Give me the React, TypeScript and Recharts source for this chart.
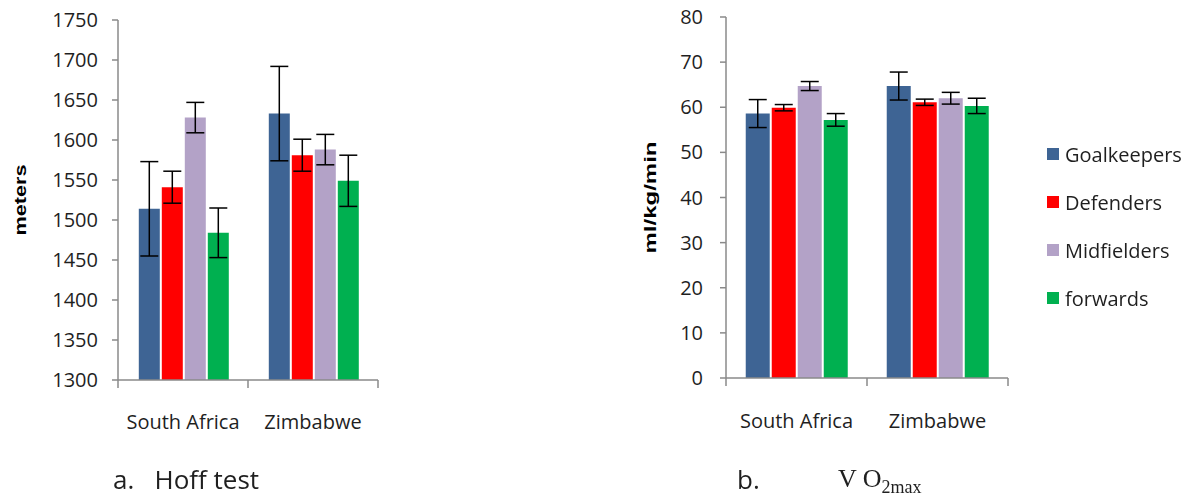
import { BarChart, Bar, XAxis, YAxis, ErrorBar, Legend } from 'recharts';

const groups = ['South Africa', 'Zimbabwe'];
const positions = ['Goalkeepers', 'Defenders', 'Midfielders', 'forwards'];
const colors = ['#3E6494', '#FF0000', '#B3A2C7', '#00B050'];

// a. Hoff test (meters)
const hoffGoalkeepers = [1514, 1633];
const hoffDefenders = [1541, 1581];
const hoffMidfielders = [1628, 1588];
const hoffForwards = [1484, 1549];
const hoffGoalkeepersErr = [59, 59];
const hoffDefendersErr = [20, 20];
const hoffMidfieldersErr = [19, 19];
const hoffForwardsErr = [31, 32];
const hoffTicks = [1300, 1350, 1400, 1450, 1500, 1550, 1600, 1650, 1700, 1750];

// b. VO2max (ml/kg/min)
const vo2Goalkeepers = [58.6, 64.7];
const vo2Defenders = [59.9, 61.1];
const vo2Midfielders = [64.7, 62.0];
const vo2Forwards = [57.2, 60.3];
const vo2GoalkeepersErr = [3.1, 3.1];
const vo2DefendersErr = [0.7, 0.7];
const vo2MidfieldersErr = [1.0, 1.3];
const vo2ForwardsErr = [1.4, 1.7];
const vo2Ticks = [0, 10, 20, 30, 40, 50, 60, 70, 80];

const keys = ['gk', 'def', 'mid', 'fwd'];

const buildRows = (means: number[][], errs: number[][]) =>
  groups.map((name, i) => {
    const row: Record<string, any> = { name };
    keys.forEach((k, j) => {
      row[k] = means[j][i];
      row[k + 'Err'] = errs[j][i];
    });
    return row;
  });

const hoffData = buildRows(
  [hoffGoalkeepers, hoffDefenders, hoffMidfielders, hoffForwards],
  [hoffGoalkeepersErr, hoffDefendersErr, hoffMidfieldersErr, hoffForwardsErr]
);
const vo2Data = buildRows(
  [vo2Goalkeepers, vo2Defenders, vo2Midfielders, vo2Forwards],
  [vo2GoalkeepersErr, vo2DefendersErr, vo2MidfieldersErr, vo2ForwardsErr]
);

const axisGrey = '#8a8a8a';
const textColor = '#1f1f1f';
const font = '"Open Sans", sans-serif';

// Excel style category axis: tick marks sit between categories, labels centred
const CategoryTick = (props: any) => {
  const { x, y, payload, index, half, labelDy } = props;
  return (
    <g>
      <line x1={x - half} x2={x - half} y1={y} y2={y + 8} stroke={axisGrey} strokeWidth={1.5} />
      {index === groups.length - 1 && (
        <line x1={x + half} x2={x + half} y1={y} y2={y + 8} stroke={axisGrey} strokeWidth={1.5} />
      )}
      <text x={x} y={y + labelDy} textAnchor="middle" fill={textColor} fontSize={20} fontFamily={font}>
        {payload.value}
      </text>
    </g>
  );
};

const AxisTitle = (props: any) => {
  const { viewBox, text, cx, length } = props;
  const cy = viewBox ? viewBox.y + viewBox.height / 2 : 200;
  return (
    <text
      x={cx}
      y={cy}
      transform={`rotate(-90 ${cx} ${cy})`}
      textAnchor="middle"
      dominantBaseline="central"
      textLength={length}
      lengthAdjust="spacingAndGlyphs"
      fontFamily='"Liberation Sans", Arial, sans-serif'
      fontWeight="bold"
      fontSize={17}
      fill="#000"
    >
      {text}
    </text>
  );
};

// keep the series order (the default legend sorts by name)
const LegendList = (props: any) => {
  const items = [...(props.payload || [])].sort(
    (a: any, b: any) => positions.indexOf(a.value) - positions.indexOf(b.value)
  );
  return (
    <div>
      {items.map((item: any) => (
        <div key={item.value} style={{ height: 48, display: 'flex', alignItems: 'center' }}>
          <span style={{ width: 12, height: 12, background: item.color, display: 'inline-block', marginRight: 6 }} />
          <span style={{ fontFamily: font, fontSize: 20, color: textColor }}>{item.value}</span>
        </div>
      ))}
    </div>
  );
};

const renderBars = () =>
  keys.map((k, j) => (
    <Bar key={k} dataKey={k} name={positions[j]} fill={colors[j]} isAnimationActive={false}>
      <ErrorBar dataKey={k + 'Err'} direction="y" width={9} stroke="#000" strokeWidth={1.5} />
    </Bar>
  ));

export default function App() {
  const hoffPlotWidth = 392 - 14 - 118;
  const vo2PlotWidth = 580 - 192 - 106;
  return (
    <div style={{ position: 'fixed', left: 0, top: 0, width: 1200, height: 495, background: '#fff' }}>
      <div style={{ position: 'absolute', left: 0, top: 0 }}>
        <BarChart width={392} height={440} data={hoffData} margin={{ top: 20, right: 14, bottom: 20, left: 0 }} barCategoryGap="16%" barGap={2}>
          <XAxis
            dataKey="name"
            height={40}
            tickLine={false}
            tickSize={0}
            tickMargin={0}
            axisLine={{ stroke: axisGrey, strokeWidth: 1.5 }}
            tick={<CategoryTick half={hoffPlotWidth / groups.length / 2} labelDy={49} />}
            interval={0}
          />
          <YAxis
            width={118}
            domain={[1300, 1750]}
            ticks={hoffTicks}
            tickSize={6}
            tickMargin={14}
            allowDataOverflow
            axisLine={{ stroke: axisGrey, strokeWidth: 1.5 }}
            tickLine={{ stroke: axisGrey, strokeWidth: 1.5 }}
            tick={{ fill: textColor, fontSize: 20, fontFamily: font }}
            label={<AxisTitle text="meters" cx={20} length={71} />}
          />
          {renderBars()}
        </BarChart>
      </div>
      <div style={{ position: 'absolute', left: 620, top: 0 }}>
        <BarChart width={580} height={440} data={vo2Data} margin={{ top: 17, right: 192, bottom: 22, left: 0 }} barCategoryGap="14%" barGap={2}>
          <XAxis
            dataKey="name"
            height={40}
            tickLine={false}
            tickSize={0}
            tickMargin={0}
            axisLine={{ stroke: axisGrey, strokeWidth: 1.5 }}
            tick={<CategoryTick half={vo2PlotWidth / groups.length / 2} labelDy={50} />}
            interval={0}
          />
          <YAxis
            width={106}
            domain={[0, 80]}
            ticks={vo2Ticks}
            tickSize={6}
            tickMargin={17}
            axisLine={{ stroke: axisGrey, strokeWidth: 1.5 }}
            tickLine={{ stroke: axisGrey, strokeWidth: 1.5 }}
            tick={{ fill: textColor, fontSize: 20, fontFamily: font }}
            label={<AxisTitle text="ml/kg/min" cx={30} length={112} />}
          />
          <Legend
            layout="vertical"
            align="center"
            verticalAlign="middle"
            content={<LegendList />}
            wrapperStyle={{ left: 427, top: 130, width: 160 }}
          />
          {renderBars()}
        </BarChart>
      </div>
      <div style={{ position: 'absolute', left: 113, top: 464, fontFamily: font, fontSize: 26, color: textColor, whiteSpace: 'pre', lineHeight: '30px' }}>
        {'a.   Hoff test'}
      </div>
      <div style={{ position: 'absolute', left: 737, top: 464, fontFamily: font, fontSize: 26, color: textColor, lineHeight: '30px' }}>
        b.
      </div>
      <div style={{ position: 'absolute', left: 838, top: 464, fontFamily: '"Liberation Serif", "Times New Roman", serif', fontSize: 26, color: textColor, lineHeight: '30px', whiteSpace: 'pre' }}>
        {'V O'}
        <sub style={{ fontSize: 18, verticalAlign: -6 }}>2max</sub>
      </div>
    </div>
  );
}
